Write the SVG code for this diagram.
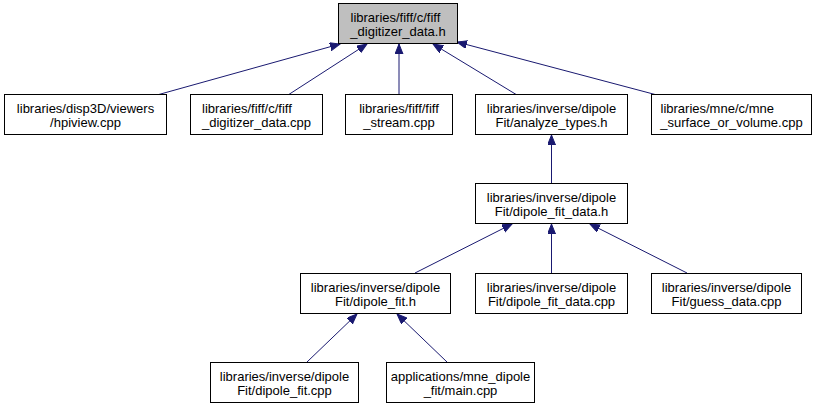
<svg xmlns="http://www.w3.org/2000/svg" width="820" height="409" viewBox="0 0 820 409">
<style>
  rect { fill: #ffffff; stroke: #000000; stroke-width: 1; }
  rect.cur { fill: #bfbfbf; }
  text { font-family: "Liberation Sans", Arial, sans-serif; font-size: 13px; fill: #000000; text-anchor: middle; }
  text.l { text-anchor: start; }
  .edge line { stroke: #191970; stroke-width: 1; marker-end: url(#arr); }
</style>
<defs>
  <marker id="arr" markerUnits="userSpaceOnUse" markerWidth="11" markerHeight="9" refX="10" refY="4" orient="auto">
    <path d="M0,0 L10,4 L0,8 z" fill="#191970" stroke="#191970" stroke-width="1"/>
  </marker>
</defs>
<rect x="0" y="0" width="820" height="409" style="fill:#ffffff;stroke:none"/>
<g id="edges" class="edge">
  <line x1="157" y1="95" x2="340" y2="44"/>
  <line x1="288" y1="95" x2="367" y2="44"/>
  <line x1="399" y1="95" x2="399" y2="44"/>
  <line x1="517" y1="95" x2="433" y2="44"/>
  <line x1="657" y1="95" x2="457" y2="42"/>
  <line x1="551.5" y1="184" x2="551.5" y2="135"/>
  <line x1="415" y1="273" x2="512" y2="224"/>
  <line x1="551.5" y1="273" x2="551.5" y2="224"/>
  <line x1="687" y1="273" x2="590" y2="224"/>
  <line x1="307" y1="362" x2="357" y2="314"/>
  <line x1="447" y1="362" x2="397" y2="314"/>
</g>
<g id="n_top">
  <rect class="cur" x="338.5" y="3.5" width="119" height="40"/>
  <text class="l" x="350.5" y="22">libraries/fiff/c/fiff</text>
  <text x="398" y="36">_digitizer_data.h</text>
</g>
<g id="n_hpiview">
  <rect x="4.5" y="94.5" width="162" height="40"/>
  <text x="85.5" y="113">libraries/disp3D/viewers</text>
  <text x="85.5" y="127">/hpiview.cpp</text>
</g>
<g id="n_fiffdigcpp">
  <rect x="190.5" y="94.5" width="132" height="40"/>
  <text class="l" x="202" y="113">libraries/fiff/c/fiff</text>
  <text x="256.5" y="127">_digitizer_data.cpp</text>
</g>
<g id="n_fiffstream">
  <rect x="345.5" y="94.5" width="107" height="40"/>
  <text x="399" y="113">libraries/fiff/fiff</text>
  <text x="399" y="127">_stream.cpp</text>
</g>
<g id="n_analyze">
  <rect x="475.5" y="94.5" width="152" height="40"/>
  <text x="551.5" y="113">libraries/inverse/dipole</text>
  <text x="551.5" y="127">Fit/analyze_types.h</text>
</g>
<g id="n_mnesurf">
  <rect x="651.5" y="94.5" width="160" height="40"/>
  <text class="l" x="660.5" y="113">libraries/mne/c/mne</text>
  <text x="731.5" y="127">_surface_or_volume.cpp</text>
</g>
<g id="n_dfdh">
  <rect x="475.5" y="183.5" width="152" height="40"/>
  <text x="551.5" y="202">libraries/inverse/dipole</text>
  <text x="551.5" y="216">Fit/dipole_fit_data.h</text>
</g>
<g id="n_dfh">
  <rect x="300.5" y="273.5" width="150" height="40"/>
  <text x="375.5" y="292">libraries/inverse/dipole</text>
  <text x="375.5" y="306">Fit/dipole_fit.h</text>
</g>
<g id="n_dfdcpp">
  <rect x="475.5" y="273.5" width="152" height="40"/>
  <text x="551.5" y="292">libraries/inverse/dipole</text>
  <text x="551.5" y="306">Fit/dipole_fit_data.cpp</text>
</g>
<g id="n_guess">
  <rect x="651.5" y="273.5" width="150" height="40"/>
  <text x="726.5" y="292">libraries/inverse/dipole</text>
  <text x="726.5" y="306">Fit/guess_data.cpp</text>
</g>
<g id="n_dfcpp">
  <rect x="210.5" y="362.5" width="148" height="40"/>
  <text x="284.5" y="381">libraries/inverse/dipole</text>
  <text x="284.5" y="395">Fit/dipole_fit.cpp</text>
</g>
<g id="n_main">
  <rect x="386.5" y="362.5" width="148" height="40"/>
  <text x="460.5" y="381">applications/mne_dipole</text>
  <text x="460.5" y="395">_fit/main.cpp</text>
</g>
</svg>
